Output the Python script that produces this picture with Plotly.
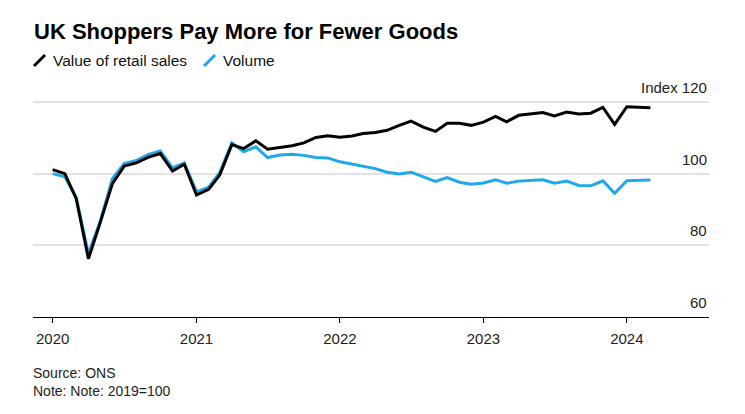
import pandas as pd
import plotly.graph_objects as go

months = pd.date_range("2020-01-01", periods=51, freq="MS")

value_sales = [101.2, 100.1, 93.1, 76.3, 86.4, 97.3, 102.2, 103.1, 104.7, 105.7, 100.8, 102.7,
               94.1, 95.7, 99.7, 108.2, 107.1, 109.3, 106.9, 107.4, 107.9, 108.7, 110.2, 110.7,
               110.3, 110.6, 111.3, 111.6, 112.2, 113.6, 114.8, 113.1, 111.9, 114.2, 114.2, 113.6,
               114.5, 116.1, 114.6, 116.4, 116.8, 117.2, 116.2, 117.3, 116.8, 117.0, 118.6, 113.9,
               118.8, 118.6, 118.5]
volume = [100.1, 99.2, 93.4, 77.7, 86.8, 98.7, 102.9, 103.8, 105.5, 106.4, 101.7, 103.1,
          95.0, 96.3, 100.4, 108.7, 106.2, 107.6, 104.6, 105.3, 105.5, 105.2, 104.6, 104.5,
          103.4, 102.8, 102.2, 101.5, 100.5, 100.0, 100.5, 99.1, 97.9, 99.0, 97.7, 97.1,
          97.5, 98.4, 97.4, 98.0, 98.2, 98.4, 97.4, 98.0, 96.8, 96.7, 98.1, 94.6,
          98.1, 98.2, 98.3]

year_ticks = ["2020-01-01", "2021-01-01", "2022-01-01", "2023-01-01", "2024-01-01"]
year_labels = ["2020", "2021", "2022", "2023", "2024"]
y_ticks = [60, 80, 100, 120]
y_labels = ["60", "80", "100", "Index 120"]

BLUE = "#1fa9ea"
FONT = "Liberation Sans, Arial, sans-serif"

# page body has an 8px margin, so the figure is drawn 8px smaller and offset
W, H = 737, 406
L, R, T, B = 25, 36, 73, 97
PW, PH = W - L - R, H - T - B


def px(x_screen):
    return (x_screen - 8 - L) / PW


def py(y_screen):
    return 1 - (y_screen - 8 - T) / PH


fig = go.Figure()
fig.add_trace(go.Scatter(x=months, y=volume, mode="lines", name="Volume",
                         line=dict(color=BLUE, width=3), showlegend=False))
fig.add_trace(go.Scatter(x=months, y=value_sales, mode="lines", name="Value of retail sales",
                         line=dict(color="#000000", width=3), showlegend=False))

annotations = [
    dict(text="<b>UK Shoppers Pay More for Fewer Goods</b>", xref="paper", yref="paper",
         x=px(32), y=py(32), xanchor="left", yanchor="middle", showarrow=False,
         font=dict(size=22, color="#000000", family=FONT)),
    dict(text="Value of retail sales", xref="paper", yref="paper",
         x=px(51), y=py(60), xanchor="left", yanchor="middle", showarrow=False,
         font=dict(size=15.5, color="#111111", family=FONT)),
    dict(text="Volume", xref="paper", yref="paper",
         x=px(221), y=py(60), xanchor="left", yanchor="middle", showarrow=False,
         font=dict(size=15.5, color="#111111", family=FONT)),
    dict(text="Source: ONS<br>Note: Note: 2019=100", xref="paper", yref="paper",
         x=px(31), y=py(363), xanchor="left", yanchor="top", showarrow=False, align="left",
         font=dict(size=14, color="#222222", family=FONT)),
]
for v, t in zip(y_ticks, y_labels):
    annotations.append(dict(text=t, xref="paper", yref="y", x=1, y=v, xanchor="right",
                            yanchor="bottom", yshift=4, showarrow=False,
                            font=dict(size=15, color="#222222", family=FONT)))

fig.update_layout(
    width=W, height=H,
    margin=dict(l=L, r=R, t=T, b=B),
    paper_bgcolor="white", plot_bgcolor="white",
    font=dict(family=FONT, color="#222222", size=14),
    xaxis=dict(
        type="date", range=["2019-11-12", "2024-07-28"],
        tickvals=year_ticks, ticktext=year_labels,
        showgrid=False, showline=True, linecolor="#000000", linewidth=1,
        ticks="outside", ticklen=5, tickcolor="#000000", tickwidth=1,
        tickfont=dict(size=15, color="#222222"), zeroline=False, ticklabelstandoff=3,
    ),
    yaxis=dict(
        range=[60, 126], side="right", tickvals=y_ticks, showticklabels=False,
        showgrid=True, gridcolor="#e2e2e2", gridwidth=1.5,
        zeroline=False, showline=False, ticks="",
    ),
    annotations=annotations,
    shapes=[
        dict(type="line", xref="paper", yref="paper",
             x0=px(34), x1=px(45), y0=py(66), y1=py(55),
             line=dict(color="#000000", width=3)),
        dict(type="line", xref="paper", yref="paper",
             x0=px(204), x1=px(215), y0=py(66), y1=py(55),
             line=dict(color=BLUE, width=3)),
    ],
)

fig.write_html("out.html")
